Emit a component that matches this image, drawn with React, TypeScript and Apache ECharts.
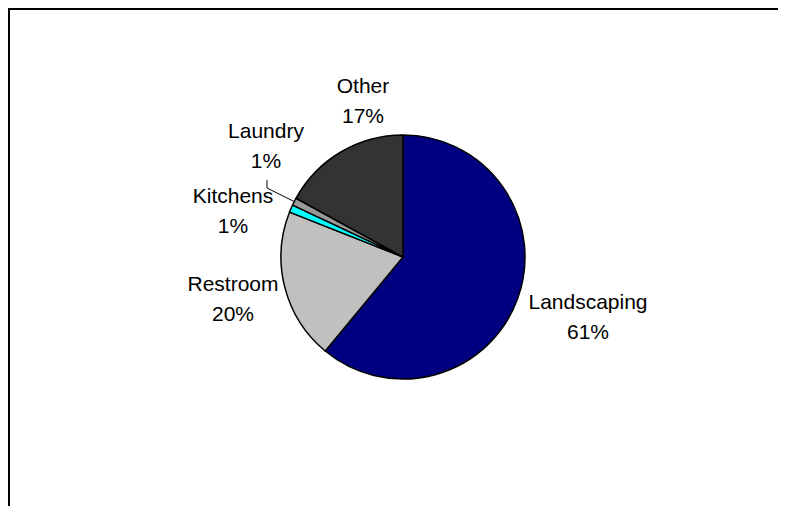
import React, { useEffect, useRef } from "react";
import * as echarts from "echarts";

const categories = ["Landscaping", "Restroom", "Kitchens", "Laundry", "Other"];
const shares = [61, 20, 1, 1, 17];
const sliceColors = ["#000080", "#C0C0C0", "#00FFFF", "#999999", "#333333"];
// label block offsets from pie centre (layout styling)
const labelOffsets = [
  [185, 59],
  [-170, 41],
  [-170, -47],
  [-137, -112],
  [-40, -157],
];
const leaderLine = [false, false, false, true, false];

const CX = 393;
const CY = 247;
const R = 122;

export default function App() {
  const ref = useRef<HTMLDivElement>(null);
  useEffect(() => {
    if (!ref.current) return;
    const chart = echarts.init(ref.current, null, { renderer: "svg" });
    chart.setOption({
      animation: false,
      backgroundColor: "#ffffff",
      series: [
        {
          type: "pie",
          center: [CX, CY],
          radius: R,
          startAngle: 90,
          clockwise: true,
          avoidLabelOverlap: false,
          percentPrecision: 0,
          itemStyle: { borderColor: "#000000", borderWidth: 1.5 },
          emphasis: { disabled: true },
          label: {
            show: true,
            position: "outside",
            formatter: "{b}\n{d}%",
            fontFamily: "Liberation Sans, Arial, sans-serif",
            fontSize: 21,
            lineHeight: 30,
            color: "#000000",
            align: "center",
          },
          labelLine: { show: false },
          labelLayout: (params: any) => {
            const i = params.dataIndex;
            const x = CX + labelOffsets[i][0];
            const y = CY + labelOffsets[i][1];
            const out: any = { x, y, align: "center", verticalAlign: "middle" };
            if (leaderLine[i] && params.labelLinePoints) {
              const p0 = params.labelLinePoints[0];
              out.labelLinePoints = [p0, [x + 1, y + 43], [x + 1, y + 35]];
            }
            return out;
          },
          data: categories.map((name, i) => ({
            name,
            value: shares[i],
            itemStyle: { color: sliceColors[i] },
            labelLine: {
              show: leaderLine[i],
              length: 10,
              length2: 10,
              lineStyle: { color: "#000000", width: 1 },
            },
          })),
        },
      ],
    });
    return () => chart.dispose();
  }, []);
  return (
    <div
      style={{
        width: 778,
        height: 498,
        borderTop: "2px solid #000",
        borderLeft: "2px solid #000",
        boxSizing: "border-box",
        overflow: "hidden",
      }}
    >
      <div ref={ref} style={{ width: 776, height: 496 }} />
    </div>
  );
}
